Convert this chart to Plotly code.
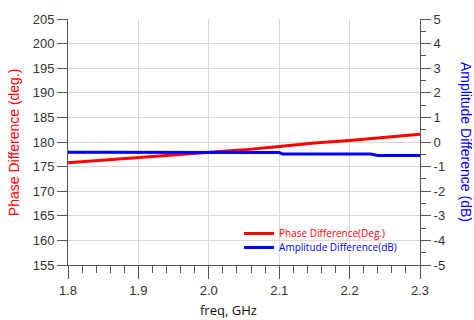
import plotly.graph_objects as go

freq = [1.8, 1.85, 1.9, 1.95, 2.0, 2.05, 2.1, 2.15, 2.2, 2.25, 2.3]
phase = [175.8, 176.3, 176.8, 177.3, 177.9, 178.4, 179.1, 179.8, 180.3, 180.9, 181.6]

amp_freq = [1.8, 1.97, 1.98, 2.1, 2.105, 2.23, 2.24, 2.3]
amp = [-0.42, -0.42, -0.43, -0.43, -0.49, -0.49, -0.55, -0.55]

x_ticks = [1.8, 1.9, 2.0, 2.1, 2.2, 2.3]
x_labels = ["1.8", "1.9", "2.0", "2.1", "2.2", "2.3"]

y2_ticks = [5, 4, 3, 2, 1, 0, -1, -2, -3, -4, -5]
y2_labels = ["5", "4", "3", "2", "1", "0", "-1", "-2", "-3", "-4", "-5"]

FONT = "Liberation Sans, Arial"

fig = go.Figure()
fig.add_trace(go.Scatter(
    x=amp_freq, y=amp, yaxis="y2", mode="lines",
    line=dict(color="#0000ff", width=3),
    name="<span style='color:#0000ff'>Amplitude Difference(dB)</span>",
    legend="legend2",
))
fig.add_trace(go.Scatter(
    x=freq, y=phase, mode="lines",
    line=dict(color="#ff0000", width=3),
    name="<span style='color:#ff0000'>Phase Difference(Deg.)</span>",
    legend="legend",
))

axis_common = dict(
    showline=True, linecolor="#555555", linewidth=1,
    ticks="outside", tickcolor="#555555",
    tickfont=dict(family=FONT, size=13, color="#333333"),
)

legend_common = dict(
    xanchor="left", yanchor="top", bgcolor="rgba(0,0,0,0)",
    font=dict(family="Open Sans, Liberation Sans", size=10), itemwidth=30,
)

fig.update_layout(
    width=474, height=320,
    margin=dict(l=68, r=54, t=19, b=55),
    paper_bgcolor="white", plot_bgcolor="white",
    showlegend=True,
    legend=dict(x=0.486, y=0.187, **legend_common),
    legend2=dict(x=0.486, y=0.13, **legend_common),
    xaxis=dict(
        range=[1.8, 2.3], tickvals=x_ticks, ticktext=x_labels,
        ticklen=13, showgrid=True, gridcolor="#d9d9d9", gridwidth=1,
        minor=dict(dtick=0.02, ticklen=7, ticks="outside", tickcolor="#555555", showgrid=False),
        zeroline=False, **axis_common,
    ),
    yaxis=dict(
        range=[155, 205], dtick=5, ticklen=10,
        showgrid=True, gridcolor="#d9d9d9", gridwidth=1, zeroline=False,
        **axis_common,
    ),
    yaxis2=dict(
        range=[-5, 5], tickvals=y2_ticks, ticktext=y2_labels,
        overlaying="y", side="right", ticklen=10,
        showgrid=False, zeroline=False,
        minor=dict(dtick=0.5, ticklen=5, ticks="outside", tickcolor="#555555"),
        **axis_common,
    ),
    annotations=[
        dict(text="Phase Difference (deg.)", xref="paper", yref="paper", x=-0.153, y=0.5,
             xanchor="center", yanchor="middle", textangle=-90, showarrow=False,
             font=dict(family="Liberation Sans, Arial", size=14, color="#ff0000")),
        dict(text="Amplitude Difference (dB)", xref="paper", yref="paper", x=1.131, y=0.5,
             xanchor="center", yanchor="middle", textangle=90, showarrow=False,
             font=dict(family="Liberation Sans, Arial", size=14, color="#0000ff")),
        dict(text="freq, GHz", xref="paper", yref="paper", x=0.455, y=-0.183,
             xanchor="center", yanchor="middle", showarrow=False,
             font=dict(family="Open Sans, Liberation Sans", size=13, color="#111111")),
    ],
)

fig.write_html(
    "out.html",
    config={"displayModeBar": False},
    post_script="document.body.style.margin='0';document.body.style.overflow='hidden';",
)
